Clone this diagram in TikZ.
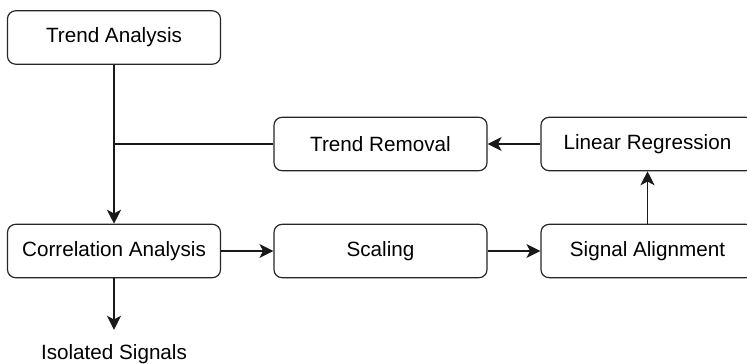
\documentclass[tikz,border=0pt]{standalone}
\usepackage{fontspec}
\setmainfont{Liberation Sans}
\usetikzlibrary{arrows.meta}
\begin{document}
\begin{tikzpicture}[x=0.75pt,y=-0.75pt,
  box/.style={draw=black!85, line width=0.9pt, rounded corners=6pt, fill=white,
    minimum width=159.75pt, minimum height=40pt, inner sep=0pt, font=\fontsize{15.5}{18}\selectfont},
  conn/.style={line width=0.9pt, draw=black!90},
  arr/.style={conn, -{Stealth[length=10.5pt, width=10.5pt, inset=2.8pt]}},
  lbl/.style={inner sep=0pt, font=\fontsize{15.5}{18}\selectfont}]
\useasboundingbox (0,0) rectangle (747,364);
\clip (0,0) rectangle (747,364);
\node[box] (ta) at (114,37.5) {Trend Analysis};
\node[box] (tr) at (380.5,144) {Trend Removal};
\node[box] (lr) at (647.5,144) {Linear Regression};
\node[box] (ca) at (114,251) {Correlation Analysis};
\node[box] (sc) at (380.5,251) {Scaling};
\node[box] (sa) at (647.5,251) {Signal Alignment};
\node[lbl, anchor=base] (iso) at (114,359) {Isolated Signals};
\coordinate (j) at (114,144);
\draw[arr] (ta) -- (ca);
\draw[conn] (tr.west) -- (j);
\draw[arr] (lr) -- (tr);
\draw[arr] (sa) -- (lr);
\draw[arr] (ca) -- (sc);
\draw[arr] (sc) -- (sa);
\draw[arr, shorten >=10.5pt] (ca.south) -- (iso.north);
\end{tikzpicture}
\end{document}
